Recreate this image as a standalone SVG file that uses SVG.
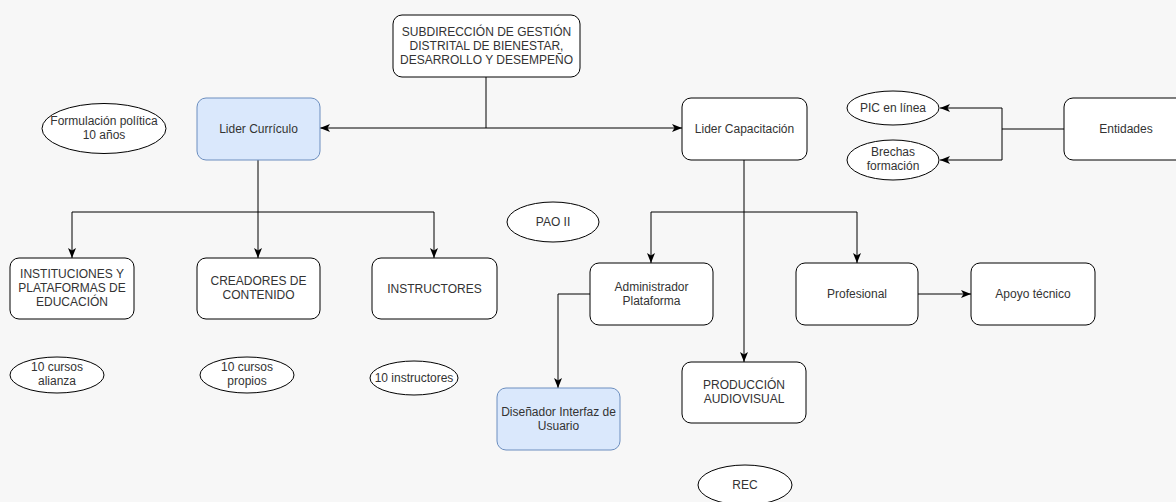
<svg xmlns="http://www.w3.org/2000/svg" width="1176" height="502" viewBox="0 0 1176 502">
  <style>
    .box { fill: #ffffff; stroke: #000000; stroke-width: 1; }
    .blue { fill: #dae8fc; stroke: #6c8ebf; stroke-width: 1; }
    .oval { fill: #ffffff; stroke: #000000; stroke-width: 1; }
    .edge { fill: none; stroke: #000000; stroke-width: 1; }
    .arrow { marker-end: url(#head); }
    text { font-family: "Liberation Sans", Arial, sans-serif; font-size: 12px; fill: #333333; text-anchor: middle; }
  </style>
  <defs>
    <marker id="head" viewBox="0 0 10 8" refX="10" refY="4" markerWidth="10" markerHeight="8" markerUnits="userSpaceOnUse" orient="auto">
      <path d="M0,0 L10,4 L0,8 L2.5,4 Z" fill="#000000"/>
    </marker>
    <marker id="tail" viewBox="0 0 10 8" refX="0" refY="4" markerWidth="10" markerHeight="8" markerUnits="userSpaceOnUse" orient="auto">
      <path d="M10,0 L0,4 L10,8 L7.5,4 Z" fill="#000000"/>
    </marker>
  </defs>

  <rect width="1176" height="502" fill="#f7f7f7"/>

  <g id="connectors">
    <!-- top level link between the two leads -->
    <path class="edge" d="M486,77 V128"/>
    <path class="edge" d="M320,128 H682" marker-start="url(#tail)" marker-end="url(#head)"/>
    <!-- Lider Currículo branches -->
    <path class="edge" d="M258,160 V212"/>
    <path class="edge arrow" d="M258,212 H72 V258"/>
    <path class="edge arrow" d="M258,212 V258"/>
    <path class="edge arrow" d="M258,212 H434 V258"/>
    <!-- Lider Capacitación branches -->
    <path class="edge arrow" d="M744,160 V362"/>
    <path class="edge arrow" d="M744,212 H651 V263"/>
    <path class="edge arrow" d="M744,212 H857 V263"/>
    <path class="edge arrow" d="M590,294 H558 V388"/>
    <path class="edge arrow" d="M918,294 H971"/>
    <!-- Entidades -->
    <path class="edge" d="M1064,129 H1002"/>
    <path class="edge arrow" d="M1002,129 V108 H940"/>
    <path class="edge arrow" d="M1002,129 V160 H940"/>
  </g>

  <g id="subdireccion">
    <rect class="box" x="393" y="15" width="187" height="62" rx="9"/>
    <text x="486.5" y="36">SUBDIRECCIÓN DE GESTIÓN</text>
    <text x="486.5" y="50">DISTRITAL DE BIENESTAR,</text>
    <text x="486.5" y="64">DESARROLLO Y DESEMPEÑO</text>
  </g>

  <g id="formulacion">
    <ellipse class="oval" cx="104" cy="128.5" rx="62" ry="25"/>
    <text x="104" y="125">Formulación política</text>
    <text x="104" y="139">10 años</text>
  </g>

  <g id="lider-curriculo">
    <rect class="blue" x="197" y="98" width="123" height="62" rx="9"/>
    <text x="258.5" y="133">Lider Currículo</text>
  </g>

  <g id="lider-capacitacion">
    <rect class="box" x="682" y="98" width="125" height="62" rx="9"/>
    <text x="744.5" y="133">Lider Capacitación</text>
  </g>

  <g id="pic-en-linea">
    <ellipse class="oval" cx="893" cy="108" rx="46" ry="17"/>
    <text x="893" y="112">PIC en línea</text>
  </g>

  <g id="brechas">
    <ellipse class="oval" cx="893" cy="160" rx="46" ry="20"/>
    <text x="893" y="156">Brechas</text>
    <text x="893" y="170">formación</text>
  </g>

  <g id="entidades">
    <rect class="box" x="1064" y="98" width="125" height="62" rx="9"/>
    <text x="1126" y="133">Entidades</text>
  </g>

  <g id="pao-ii">
    <ellipse class="oval" cx="553" cy="222" rx="46" ry="20"/>
    <text x="553" y="226">PAO II</text>
  </g>

  <g id="instituciones">
    <rect class="box" x="10" y="258" width="124" height="61" rx="9"/>
    <text x="72" y="278">INSTITUCIONES Y</text>
    <text x="72" y="292">PLATAFORMAS DE</text>
    <text x="72" y="306">EDUCACIÓN</text>
  </g>

  <g id="creadores">
    <rect class="box" x="197" y="258" width="123" height="61" rx="9"/>
    <text x="258.5" y="285">CREADORES DE</text>
    <text x="258.5" y="299">CONTENIDO</text>
  </g>

  <g id="instructores">
    <rect class="box" x="372" y="258" width="125" height="61" rx="9"/>
    <text x="434.5" y="293">INSTRUCTORES</text>
  </g>

  <g id="administrador">
    <rect class="box" x="590" y="263" width="123" height="62" rx="9"/>
    <text x="651.5" y="291">Administrador</text>
    <text x="651.5" y="305">Plataforma</text>
  </g>

  <g id="profesional">
    <rect class="box" x="796" y="263" width="122" height="62" rx="9"/>
    <text x="857" y="298">Profesional</text>
  </g>

  <g id="apoyo-tecnico">
    <rect class="box" x="971" y="263" width="124" height="62" rx="9"/>
    <text x="1033" y="298">Apoyo técnico</text>
  </g>

  <g id="cursos-alianza">
    <ellipse class="oval" cx="57" cy="375" rx="47" ry="18"/>
    <text x="57" y="371">10 cursos</text>
    <text x="57" y="385">alianza</text>
  </g>

  <g id="cursos-propios">
    <ellipse class="oval" cx="247" cy="375" rx="47" ry="18"/>
    <text x="247" y="371">10 cursos</text>
    <text x="247" y="385">propios</text>
  </g>

  <g id="diez-instructores">
    <ellipse class="oval" cx="414" cy="378" rx="44" ry="17"/>
    <text x="414" y="382">10 instructores</text>
  </g>

  <g id="disenador">
    <rect class="blue" x="497" y="388" width="123" height="62" rx="9"/>
    <text x="558.5" y="416">Diseñador Interfaz de</text>
    <text x="558.5" y="430">Usuario</text>
  </g>

  <g id="produccion">
    <rect class="box" x="682" y="362" width="124" height="61" rx="9"/>
    <text x="744" y="389">PRODUCCIÓN</text>
    <text x="744" y="403">AUDIOVISUAL</text>
  </g>

  <g id="rec">
    <ellipse class="oval" cx="745" cy="485" rx="47" ry="20"/>
    <text x="745" y="489">REC</text>
  </g>
</svg>
